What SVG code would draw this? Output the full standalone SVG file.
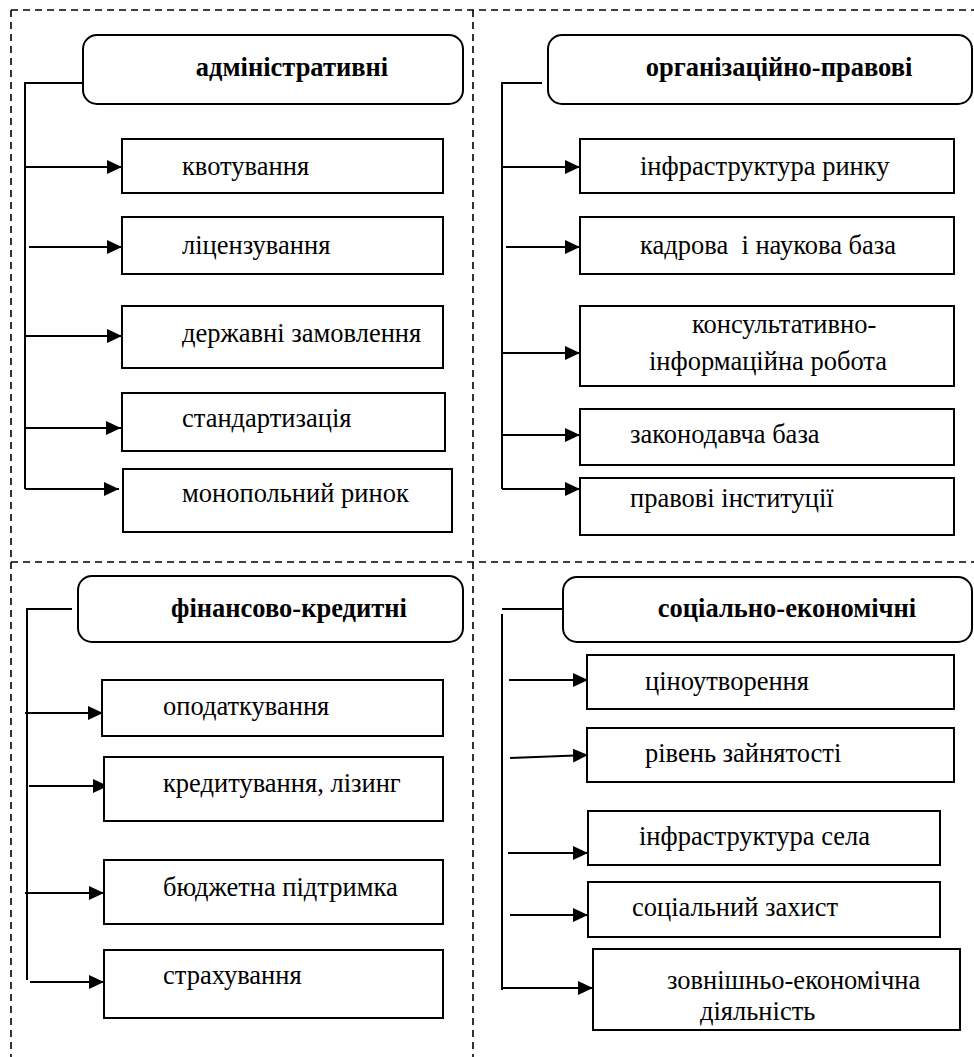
<svg xmlns="http://www.w3.org/2000/svg" width="974" height="1057" viewBox="0 0 974 1057">
<style>
text{font-family:'Liberation Serif','Times New Roman',serif;font-size:26.5px;fill:#000}
.h{font-weight:bold;text-anchor:middle}
.box{fill:#fff;stroke:#000;stroke-width:2}
.hdr{fill:#fff;stroke:#000;stroke-width:2}
.c{fill:none;stroke:#000;stroke-width:2}
.a{fill:none;stroke:#000;stroke-width:2.2;marker-end:url(#ar)}
.d{fill:none;stroke:#000;stroke-width:1.6;stroke-dasharray:7 5}
</style>
<defs>
<marker id="ar" markerUnits="userSpaceOnUse" markerWidth="16" markerHeight="14" refX="15" refY="7" orient="auto">
<path d="M0,0 L15,7 L0,14 z" fill="#000"/>
</marker>
</defs>
<rect width="974" height="1057" fill="#fff"/>
<g id="frame">
<path class="d" d="M11,10 H974"/>
<path class="d" d="M11,10 V1057"/>
<path class="d" d="M473,10 V1057"/>
<path class="d" d="M11,562 H974"/>
</g>
<g id="connectors">
<path class="c" d="M83,83 H25 V489"/>
<path class="a" d="M25,167 H122"/>
<path class="a" d="M29,247 H122"/>
<path class="a" d="M25,336 H122"/>
<path class="a" d="M25,428 H121"/>
<path class="a" d="M25,489 H119"/>
<path class="c" d="M542,83 H502 V489"/>
<path class="a" d="M502,167 H580"/>
<path class="a" d="M506,247 H580"/>
<path class="a" d="M502,353 H580"/>
<path class="a" d="M502,435 H580"/>
<path class="a" d="M502,489 H580"/>
<path class="c" d="M72,609 H27 V980"/>
<path class="a" d="M25,713 H103"/>
<path class="a" d="M29,786 H108"/>
<path class="a" d="M25,893 H104"/>
<path class="a" d="M30,982 H104"/>
<path class="c" d="M562,609 H502"/>
<path class="c" d="M502,614 V990"/>
<path class="a" d="M509,680 H588"/>
<path class="a" d="M510,758 L588,755"/>
<path class="a" d="M508,853 H588"/>
<path class="a" d="M510,915 H588"/>
<path class="a" d="M502,988 H593"/>
</g>
<g id="h-admin"><rect class="hdr" x="83" y="35" width="380" height="69" rx="14"/><text class="h" x="292" y="76">адміністративні</text></g>
<g id="n-kvot"><rect class="box" x="122" y="139" width="321" height="54"/><text x="182" y="175">квотування</text></g>
<g id="n-lic"><rect class="box" x="122" y="217" width="321" height="57"/><text x="182" y="254">ліцензування</text></g>
<g id="n-derzh"><rect class="box" x="122" y="306" width="321" height="62"/><text x="182" y="342">державні замовлення</text></g>
<g id="n-stand"><rect class="box" x="122" y="393" width="323" height="58"/><text x="182" y="427">стандартизація</text></g>
<g id="n-monop"><rect class="box" x="123" y="469" width="329" height="63"/><text x="182" y="502">монопольний ринок</text></g>
<g id="h-org"><rect class="hdr" x="548" y="35" width="424" height="69" rx="14"/><text class="h" x="779" y="76">організаційно-правові</text></g>
<g id="n-infr"><rect class="box" x="580" y="139" width="374" height="54"/><text x="640" y="175">інфраструктура ринку</text></g>
<g id="n-kadr"><rect class="box" x="580" y="217" width="374" height="57"/><text x="640" y="254" xml:space="preserve">кадрова  і наукова база</text></g>
<g id="n-kons"><rect class="box" x="580" y="306" width="374" height="80"/><text x="692" y="333">консультативно-</text><text x="649" y="370">інформаційна робота</text></g>
<g id="n-zakon"><rect class="box" x="580" y="409" width="374" height="56"/><text x="630" y="443">законодавча база</text></g>
<g id="n-prav"><rect class="box" x="580" y="478" width="374" height="57"/><text x="630" y="507">правові інституції</text></g>
<g id="h-fin"><rect class="hdr" x="78" y="576" width="385" height="66" rx="14"/><text class="h" x="289" y="617">фінансово-кредитні</text></g>
<g id="n-opod"><rect class="box" x="102" y="680" width="341" height="56"/><text x="163" y="715">оподаткування</text></g>
<g id="n-kred"><rect class="box" x="104" y="757" width="339" height="64"/><text x="163" y="792">кредитування, лізинг</text></g>
<g id="n-budg"><rect class="box" x="104" y="860" width="339" height="64"/><text x="163" y="896">бюджетна підтримка</text></g>
<g id="n-strakh"><rect class="box" x="104" y="950" width="339" height="68"/><text x="163" y="984">страхування</text></g>
<g id="h-soc"><rect class="hdr" x="563" y="577" width="409" height="65" rx="14"/><text class="h" x="787" y="617">соціально-економічні</text></g>
<g id="n-tsin"><rect class="box" x="587" y="655" width="367" height="54"/><text x="645" y="690">ціноутворення</text></g>
<g id="n-riv"><rect class="box" x="587" y="728" width="367" height="54"/><text x="645" y="762">рівень зайнятості</text></g>
<g id="n-infs"><rect class="box" x="588" y="811" width="352" height="54"/><text x="639" y="845">інфраструктура села</text></g>
<g id="n-soczakh"><rect class="box" x="588" y="882" width="352" height="55"/><text x="632" y="916">соціальний захист</text></g>
<g id="n-zovn"><rect class="box" x="593" y="949" width="367" height="81"/><text x="667" y="989">зовнішньо-економічна</text><text x="700" y="1020">діяльність</text></g>
</svg>
